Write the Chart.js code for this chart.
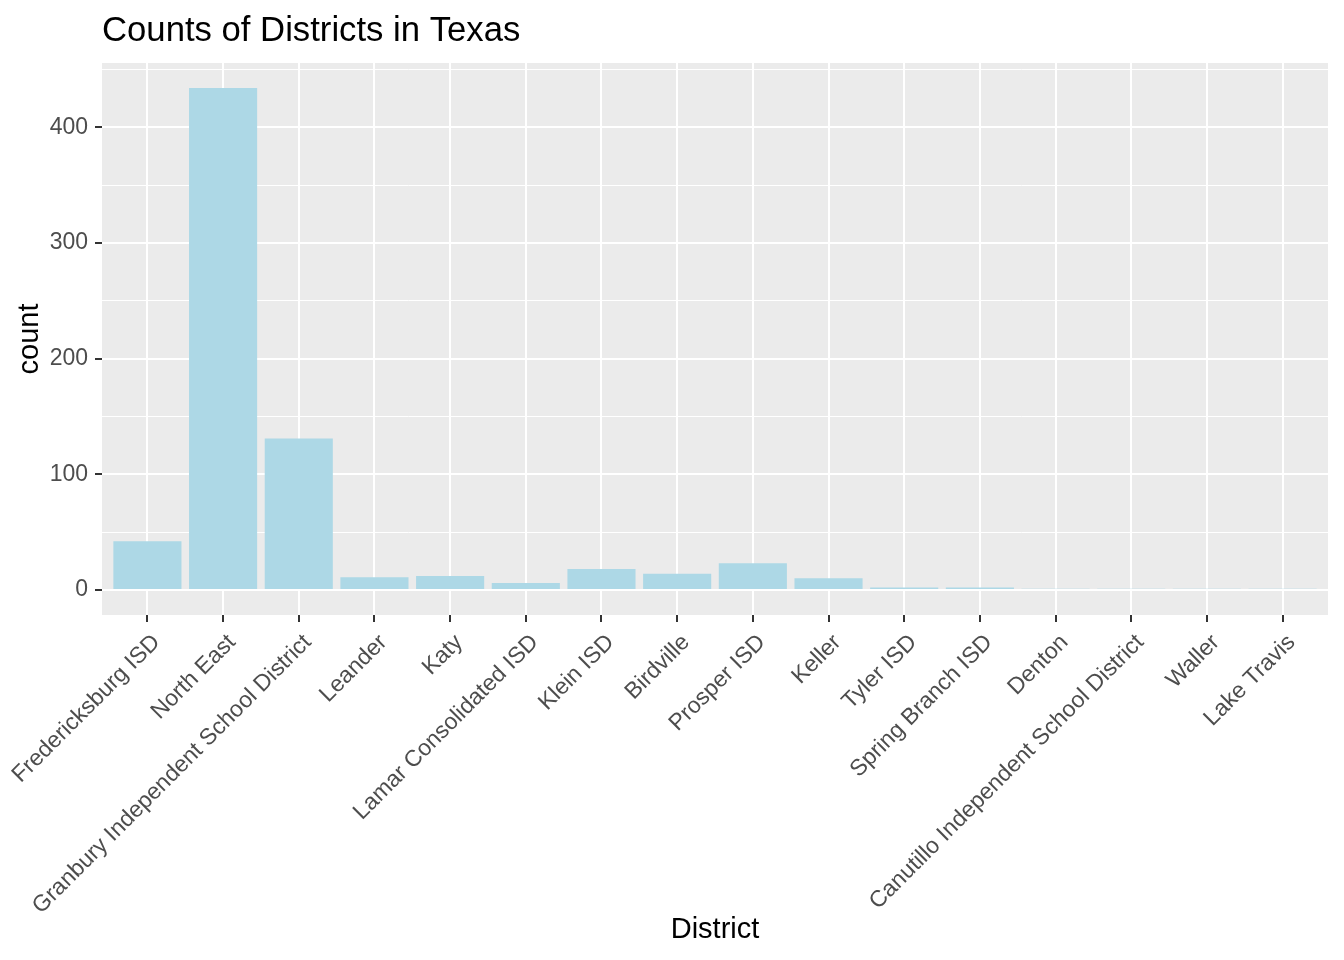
<!DOCTYPE html>
<html>
<head>
<meta charset="utf-8">
<script src="https://cdn.jsdelivr.net/npm/chart.js@4"></script>
<style>
  html, body { margin: 0; padding: 0; background: #fff; }
  #wrap { width: 1344px; height: 960px; position: relative; }
</style>
</head>
<body>
<div id="wrap"><canvas id="chart"></canvas></div>
<script>
const districts = [
  'Fredericksburg ISD', 'North East', 'Granbury Independent School District', 'Leander',
  'Katy', 'Lamar Consolidated ISD', 'Klein ISD', 'Birdville', 'Prosper ISD', 'Keller',
  'Tyler ISD', 'Spring Branch ISD', 'Denton', 'Canutillo Independent School District',
  'Waller', 'Lake Travis'
];
const counts = [42, 434, 131, 11, 12, 6, 18, 14, 23, 10, 2, 2, 1, 1, 1, 1];
const yMajorTicks = [0, 100, 200, 300, 400];
const yMinorTicks = [50, 150, 250, 350, 450];
const yRange = [-21.7, 455.7];
const xRange = [-0.6, 15.6];

const FONT = '"Liberation Sans", Arial, sans-serif';

// grey panel + plot title (ggplot style)
const panelPlugin = {
  id: 'panel',
  beforeDraw(chart) {
    const { ctx, chartArea: a } = chart;
    ctx.save();
    ctx.fillStyle = '#EBEBEB';
    ctx.fillRect(a.left, a.top, a.right - a.left, a.bottom - a.top);
    ctx.restore();
  },
  afterDraw(chart) {
    const { ctx, chartArea: a } = chart;
    ctx.save();
    ctx.font = '34.7px ' + FONT;
    ctx.fillStyle = '#000';
    ctx.textAlign = 'left';
    ctx.textBaseline = 'alphabetic';
    ctx.fillText('Counts of Districts in Texas', a.left, 41);
    ctx.restore();
  }
};

new Chart(document.getElementById('chart'), {
  type: 'bar',
  data: {
    datasets: [{
      data: counts.map((c, i) => ({ x: i, y: c })),
      backgroundColor: '#ADD8E6',
      borderWidth: 0,
      barPercentage: 0.9,
      categoryPercentage: 1
    }]
  },
  options: {
    responsive: true,
    maintainAspectRatio: false,
    animation: false,
    layout: { padding: { top: 63, right: 16, left: 0, bottom: 0 } },
    plugins: { legend: { display: false }, tooltip: { enabled: false } },
    scales: {
      x: {
        type: 'linear',
        min: xRange[0],
        max: xRange[1],
        offset: false,
        afterBuildTicks: s => { s.ticks = districts.map((_, i) => ({ value: i })); },
        afterFit: s => { s.height = 345; s.paddingLeft = 0; s.paddingRight = 0; },
        border: { display: false },
        grid: { offset: false, color: '#FFFFFF', lineWidth: 2, tickColor: '#333333', tickLength: 7, tickWidth: 2 },
        ticks: {
          autoSkip: false,
          minRotation: 45,
          maxRotation: 45,
          padding: 7,
          labelOffset: 9,
          color: '#4D4D4D',
          font: { family: FONT, size: 23 },
          callback: v => districts[v]
        },
        title: {
          display: true,
          text: 'District',
          color: '#000',
          font: { family: FONT, size: 29 },
          padding: { top: 13, bottom: 13 }
        }
      },
      y: {
        min: yRange[0],
        max: yRange[1],
        afterBuildTicks: s => {
          s.ticks = yMajorTicks.concat(yMinorTicks).sort((a, b) => a - b).map(v => ({ value: v }));
        },
        afterFit: s => { s.width = 102; },
        border: { display: false },
        grid: {
          color: '#FFFFFF',
          lineWidth: c => (c.tick && yMajorTicks.includes(c.tick.value)) ? 2 : 1,
          tickColor: c => (c.tick && yMajorTicks.includes(c.tick.value)) ? '#333333' : 'rgba(0,0,0,0)',
          tickLength: 7,
          tickWidth: 2
        },
        ticks: {
          padding: 7,
          color: '#4D4D4D',
          font: { family: FONT, size: 23 },
          callback: v => yMajorTicks.includes(v) ? String(v) : ''
        },
        title: {
          display: true,
          text: 'count',
          color: '#000',
          font: { family: FONT, size: 29 },
          padding: { top: 13, bottom: 13 }
        }
      }
    }
  },
  plugins: [panelPlugin]
});
</script>
</body>
</html>
